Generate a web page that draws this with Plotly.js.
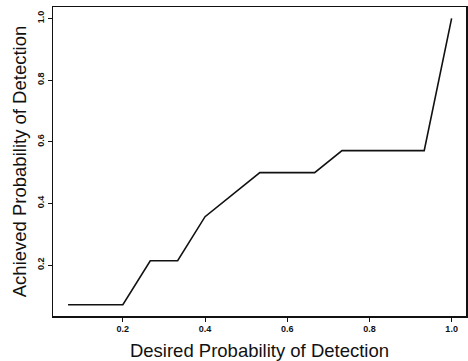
<!DOCTYPE html>
<html><head><meta charset="utf-8">
<script src="https://cdn.plot.ly/plotly-3.0.1.min.js"></script>
<style>html,body{margin:0;padding:0;background:#fff}#c{width:468px;height:361px}</style>
</head><body><div id="c"></div>
<script>
const desired = [0.0667, 0.2, 0.2667, 0.3333, 0.4, 0.4667, 0.5333, 0.6667, 0.7333, 0.9333, 1.0];
const achieved = [0.0714, 0.0714, 0.2143, 0.2143, 0.3571, 0.4286, 0.5, 0.5, 0.5714, 0.5714, 1.0];
const tickVals = [0.2, 0.4, 0.6, 0.8, 1.0];
const tickText = ['0.2', '0.4', '0.6', '0.8', '1.0'];

const trace = {x: desired, y: achieved, mode: 'lines', type: 'scatter',
  line: {color: '#111', width: 1.6}, hoverinfo: 'none'};
const axBase = {showgrid: false, zeroline: false, showline: true, mirror: true,
  linecolor: '#111', linewidth: 1.5, ticks: 'outside', ticklen: 4, tickwidth: 1,
  tickcolor: '#111', tickvals: tickVals, ticktext: tickText,
  tickfont: {family: 'Liberation Sans, Arial', size: 9, color: '#111', weight: 'bold'}};
const layout = {
  width: 468, height: 361, showlegend: false,
  paper_bgcolor: '#fff', plot_bgcolor: '#fff',
  margin: {l: 53, r: 2, t: 7, b: 45},
  xaxis: Object.assign({}, axBase, {range: [0.030, 1.035],
    title: {text: 'Desired Probability of Detection', standoff: 11,
      font: {family: 'Liberation Sans, Arial', size: 18.5, color: '#111'}}}),
  yaxis: Object.assign({}, axBase, {range: [0.035, 1.037], tickangle: -90,
    title: {text: 'Achieved Probability of Detection', standoff: 4,
      font: {family: 'Liberation Sans, Arial', size: 18.5, color: '#111'}}})
};
Plotly.newPlot('c', [trace], layout, {staticPlot: true, displayModeBar: false});
</script></body></html>
